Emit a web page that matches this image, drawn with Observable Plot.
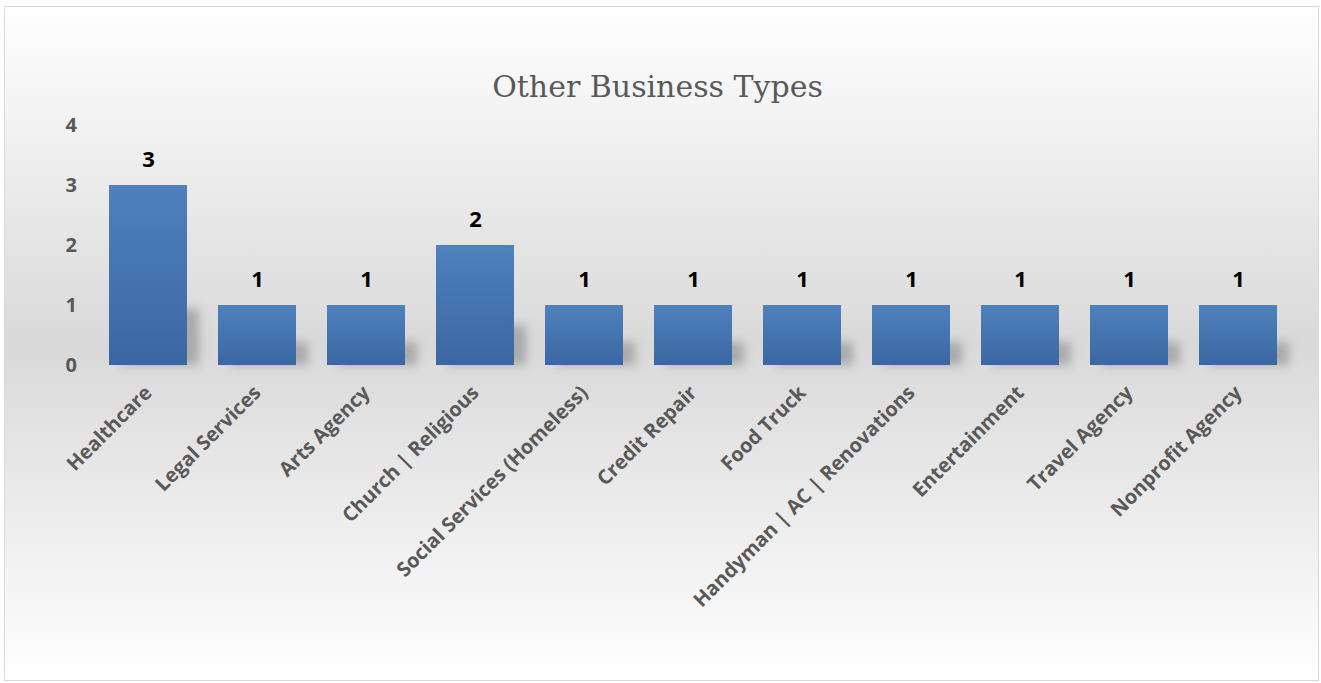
<!DOCTYPE html>
<html>
<head>
<meta charset="utf-8">
<script src="https://cdn.jsdelivr.net/npm/d3@7"></script>
<script src="https://cdn.jsdelivr.net/npm/@observablehq/plot@0.6"></script>
<style>
  html, body { margin: 0; padding: 0; background: #ffffff; }
  #frame {
    position: absolute; left: 4px; top: 6px;
    width: 1315px; height: 675px; box-sizing: border-box;
    border: 1px solid #d9d9d9;
    background: linear-gradient(to bottom, #ffffff 0%, #d9d9d9 50%, #ffffff 100%);
    overflow: hidden;
  }
  #title {
    height: 104px; box-sizing: border-box; padding-top: 63px;
    text-align: center; font-family: "DejaVu Serif", serif; font-size: 30px;
    line-height: 34px; color: #595959; padding-right: 8px;
  }
  #chart svg { display: block; background: transparent; }
</style>
</head>
<body>
<div id="frame">
  <div id="title">Other Business Types</div>
  <div id="chart"></div>
</div>
<script>
const categories = ["Healthcare", "Legal Services", "Arts Agency", "Church | Religious", "Social Services (Homeless)", "Credit Repair", "Food Truck", "Handyman | AC | Renovations", "Entertainment", "Travel Agency", "Nonprofit Agency"];
const counts = [3, 1, 1, 2, 1, 1, 1, 1, 1, 1, 1];
const yTicks = [0, 1, 2, 3, 4];

const data = categories.map((c, i) => ({category: c, value: counts[i]}));

const defs = () => {
  const d = d3.create("svg:defs");
  const g = d.append("linearGradient").attr("id", "barGrad").attr("x1", 0).attr("y1", 0).attr("x2", 0).attr("y2", 1);
  g.append("stop").attr("offset", "0%").attr("stop-color", "#4f81bd");
  g.append("stop").attr("offset", "100%").attr("stop-color", "#3a67a1");
  return d.node();
};

const font = "'Open Sans', sans-serif";

const chart = Plot.plot({
  width: 1313,
  height: 568,
  marginLeft: 88.5,
  marginRight: 25.5,
  marginTop: 14,
  marginBottom: 314,
  style: {background: "transparent", fontFamily: font, overflow: "visible"},
  x: {domain: categories, paddingInner: 0.284, paddingOuter: 0.142, label: null},
  y: {domain: [0, 4], label: null},
  marks: [
    defs,
    Plot.barY(data, {x: "category", y1: 0, y2: d => d.value * 0.28 + 0.1, dx: 12, fill: "#7a7a7a", fillOpacity: 0.5, imageFilter: "blur(5px)"}),
    Plot.barY(data, {x: "category", y: "value", fill: "url(#barGrad)"}),
    Plot.text(data, {x: "category", y: "value", text: d => String(d.value), dy: -26, fontSize: 22, fontWeight: "bold", fill: "#000000", fontFamily: font}),
    Plot.axisY({ticks: yTicks, tickSize: 0, tickPadding: 17, fontSize: 20, fontWeight: "bold", fill: "#595959", label: null, tickFormat: d => String(d)}),
    Plot.axisX({tickSize: 0, tickPadding: 24, tickRotate: -45, fontSize: 20, fontWeight: "bold", fill: "#595959", label: null})
  ]
});
document.getElementById("chart").appendChild(chart);
</script>
</body>
</html>
